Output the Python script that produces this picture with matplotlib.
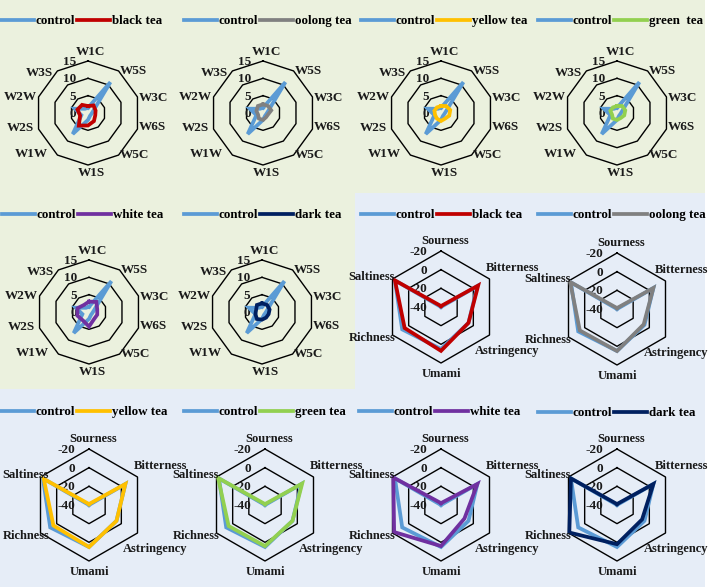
import numpy as np
import matplotlib
matplotlib.use("Agg")
import matplotlib.pyplot as plt
from matplotlib.patches import Rectangle

# ---------------- data ----------------
nose_axes = ["W1C", "W5S", "W3C", "W6S", "W5C", "W1S", "W1W", "W2S", "W2W", "W3S"]
nose_ticks = [0, 5, 10, 15]
nose_tick_labels = ["0", "5", "10", "15"]
nose_control = [1.5, 11.0, 1.5, 1.0, 1.0, 2.0, 7.5, 2.0, 4.0, 1.5]
nose_black = [2.0, 2.7, 2.3, 2.2, 2.9, 3.6, 4.5, 2.4, 3.2, 2.9]
nose_oolong = [2.5, 2.5, 2.5, 1.5, 1.5, 2.0, 2.0, 1.5, 2.0, 2.5]
nose_yellow = [2.0, 2.5, 2.8, 2.5, 2.0, 2.3, 2.0, 1.8, 2.0, 2.0]
nose_green = [2.0, 2.5, 2.5, 2.2, 1.8, 2.0, 2.0, 1.5, 2.0, 2.0]
nose_white = [3.0, 3.6, 2.5, 2.5, 2.5, 4.2, 3.0, 3.5, 3.5, 2.5]
nose_dark = [2.5, 2.5, 2.3, 2.0, 2.0, 2.2, 2.5, 2.0, 1.8, 2.5]

tongue_axes = ["Sourness", "Bitterness", "Astringency", "Umami", "Richness", "Saltiness"]
tongue_ticks = [-40, -20, 0, 20]
tongue_tick_labels = ["-40", "-20", "0", "-20"]
tongue_control = [-40, 5, -6, 5, 8, 17]
tongue_black = [-39, 6, -6, 7, 5, 17]
tongue_oolong = [-39, 5, -7, 5, 6, 18]
tongue_yellow = [-39, 5, -6, 5, 4, 16]
tongue_green = [-39, 6, -6, 4, 5, 18]
tongue_white = [-38, 5, -11, 4, 18, 19]
tongue_dark = [-39, 5, -9, 2, 19, 17]

nose_tea_names = ["black tea", "oolong tea", "yellow tea", "green  tea", "white tea", "dark tea"]
tongue_tea_names = ["black tea", "oolong tea", "yellow tea", "green tea", "white tea", "dark tea"]
tea_colors = ["#C00000", "#808080", "#FFC000", "#92D050", "#7030A0", "#002060"]
control_color = "#5B9BD5"

# ---------------- layout ----------------
W, H = 708, 587
PT = 0.72  # points per pixel at dpi 100
fig = plt.figure(figsize=(W / 100, H / 100), dpi=100)
fig.patch.set_facecolor("white")

GREEN_BG = "#EBF1DE"
BLUE_BG = "#E6EDF7"

def px_rect(x0, y0, x1, y1, color):
    fig.patches.append(Rectangle((x0 / W, 1 - y1 / H), (x1 - x0) / W, (y1 - y0) / H,
                                 transform=fig.transFigure, facecolor=color,
                                 edgecolor="none", zorder=-10))

px_rect(0, 0, 705, 193, GREEN_BG)
px_rect(0, 193, 355, 389, GREEN_BG)
px_rect(355, 193, 705, 389, BLUE_BG)
px_rect(0, 389, 705, 587, BLUE_BG)

FONT = dict(family="Liberation Serif", weight="bold", color="#1a1a1a")

# label placement styles (ha, dx px, dy px; dy positive = up)
nose_lab_style = [("center", 3, 9), ("left", 1, 0), ("left", 1, -1), ("left", 1, 2),
                  ("left", 1, 0), ("center", 3, -8), ("right", -9, 1), ("right", -4, 1),
                  ("right", -2, 0), ("right", -4, -2)]
tongue_lab_style = [("center", 4, 10), ("left", -4, 11), ("left", -15, -16),
                    ("center", 0, -11), ("right", 3, -3), ("right", 2, 2)]


def radar(cx, cy, R, labels, ticks, tick_labels, control, tea, tea_name, tea_color,
          rmin, rmax, lab_style, lab_size, tick_dx, legend_xy, col=1):
    ax = fig.add_axes([(cx - R) / W, 1 - (cy + R) / H, 2 * R / W, 2 * R / H],
                      projection="polar")
    ax.set_theta_zero_location("N")
    ax.set_theta_direction(-1)
    ax.set_ylim(rmin, rmax)
    ax.axis("off")
    n = len(labels)
    theta = np.arange(n) * 2 * np.pi / n
    tc = np.append(theta, theta[0])
    for t in ticks[1:]:
        ax.plot(tc, np.full(n + 1, t), color="black", lw=1.0, zorder=1, clip_on=False)
    for t, tl in zip(ticks, tick_labels):
        ax.annotate(tl, xy=(0, t), xytext=(tick_dx * PT, -1 * PT),
                    textcoords="offset points", ha="right", va="center",
                    fontsize=9.5, annotation_clip=False, zorder=2, **FONT)
    c = np.append(control, control[0])
    d = np.append(tea, tea[0])
    l1, = ax.plot(tc, c, color=control_color, lw=2.7, zorder=3, clip_on=False,
                  solid_joinstyle="miter")
    l2, = ax.plot(tc, d, color=tea_color, lw=2.7, zorder=4, clip_on=False,
                  solid_joinstyle="miter")
    for th, lab, (ha, dx, dy) in zip(theta, labels, lab_style):
        if col == 3 and lab == "Astringency":
            dx -= 7
        if col == 3 and lab == "Bitterness":
            dx -= 7
        if col == 0 and lab in ("Saltiness", "Richness"):
            dx += 6
        ax.annotate(lab, xy=(th, rmax), xytext=(dx * PT, dy * PT),
                    textcoords="offset points", ha=ha, va="center",
                    fontsize=lab_size, annotation_clip=False, zorder=5, **FONT)
    lx, ly = legend_xy
    fig.legend([l1, l2], ["control", tea_name], loc="center left",
               bbox_to_anchor=(lx / W, 1 - ly / H), ncol=2, frameon=False,
               handlelength=2.55, handletextpad=0.12, columnspacing=0.1,
               borderpad=0, borderaxespad=0,
               prop=dict(family="Liberation Serif", weight="bold", size=9.4))
    return ax

nose_data = [nose_black, nose_oolong, nose_yellow, nose_green, nose_white, nose_dark]
tongue_data = [tongue_black, tongue_oolong, tongue_yellow, tongue_green, tongue_white, tongue_dark]

nose_centers = [(88, 113), (263, 113), (441, 113), (617, 113), (89, 312), (262, 312)]
nose_legends = [(1, 21), (184, 21), (361, 21), (538, 21), (2, 215), (184, 215)]
nose_cols = [0, 1, 2, 3, 0, 1]

tongue_centers = [(441, 307), (617, 309), (89, 505), (265, 505), (441, 505), (617, 505)]
tongue_legends = [(361, 215), (538, 215), (1, 412), (184, 412), (359, 412), (538, 413)]
tongue_cols = [2, 3, 0, 1, 2, 3]

for i in range(6):
    cx, cy = nose_centers[i]
    radar(cx, cy, 52, nose_axes, nose_ticks, nose_tick_labels, nose_control,
          nose_data[i], nose_tea_names[i], tea_colors[i], 0, 15, nose_lab_style, 9.5,
          -12, nose_legends[i], col=nose_cols[i])

for i in range(6):
    cx, cy = tongue_centers[i]
    radar(cx, cy, 56, tongue_axes, tongue_ticks, tongue_tick_labels, tongue_control,
          tongue_data[i], tongue_tea_names[i], tea_colors[i], -40, 20, tongue_lab_style,
          9, -14, tongue_legends[i], col=tongue_cols[i])

fig.savefig("out.png", dpi=100, facecolor="white")
